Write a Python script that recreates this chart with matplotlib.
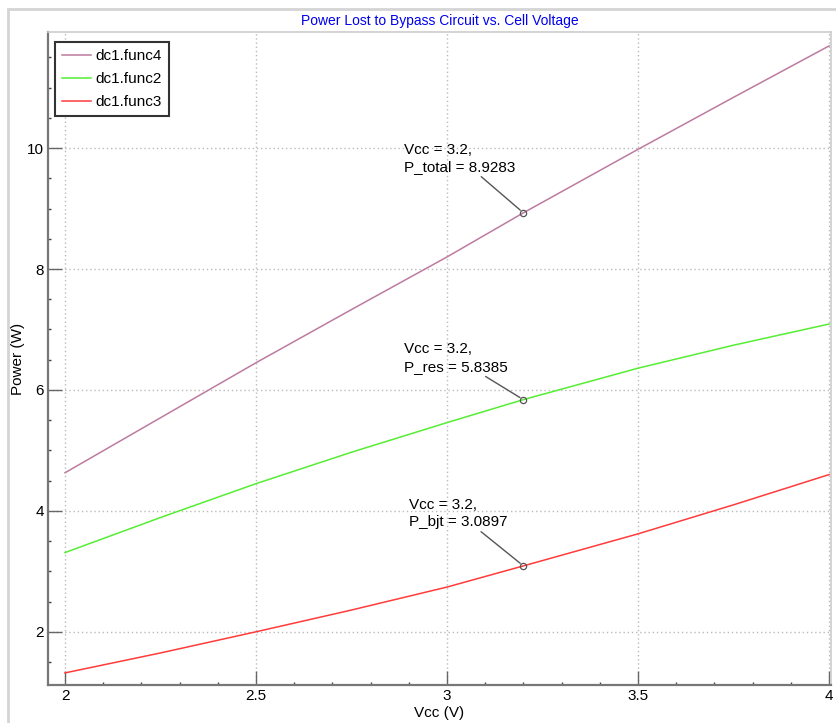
import numpy as np
import matplotlib
matplotlib.use('Agg')
import matplotlib.pyplot as plt
from matplotlib.patches import Rectangle
from matplotlib.ticker import MultipleLocator

plt.rcParams['font.family'] = ['Liberation Sans', 'DejaVu Sans']

# data
vcc = [2.0, 2.25, 2.5, 2.75, 3.0, 3.2, 3.5, 3.75, 4.0]
p_bjt = [1.32, 1.65, 2.0, 2.36, 2.74, 3.09, 3.62, 4.10, 4.60]
p_res = [3.31, 3.89, 4.45, 4.97, 5.46, 5.84, 6.36, 6.74, 7.09]
p_total = [a + b for a, b in zip(p_bjt, p_res)]

tip_x = 3.2
tips = [
    ('P_total', 8.9283, (-8, 39)),
    ('P_res', 5.8385, (-16, 26)),
    ('P_bjt', 3.0897, (-16, 37)),
]

fig = plt.figure(figsize=(8.37, 7.23), dpi=100)
fig.patches.append(Rectangle((8 / 837, -0.1), 2, (723 - 9) / 723 + 0.1,
                             transform=fig.transFigure, fill=False,
                             edgecolor='#d4d4d4', lw=2, zorder=-5))

ax = fig.add_axes([48 / 837, 38 / 723, (831 - 48) / 837, (685 - 32) / 723])

ax.plot(vcc, p_total, color='#bd7b9f', lw=1.1, label='dc1.func4')
ax.plot(vcc, p_res, color='#55ee33', lw=1.1, label='dc1.func2')
ax.plot(vcc, p_bjt, color='#ff3b3b', lw=1.1, label='dc1.func3')

for name, val, off in tips:
    ax.plot([tip_x], [val], 'o', ms=4.5, mfc='none', mec='#555555', mew=0.9)
    ax.annotate(f'Vcc = {tip_x},\n{name} = {val}', xy=(tip_x, val),
                xytext=off, textcoords='offset pixels',
                ha='right', va='bottom', multialignment='left',
                fontsize=11, linespacing=1.3,
                arrowprops=dict(arrowstyle='-', color='#555555', lw=1,
                                shrinkA=0, shrinkB=3))

ax.set_xlim(1.9555, 4.005)
ax.set_ylim(1.12, 11.92)
ax.xaxis.set_major_locator(MultipleLocator(0.5))
ax.xaxis.set_minor_locator(MultipleLocator(0.1))
ax.yaxis.set_major_locator(MultipleLocator(2))
ax.yaxis.set_minor_locator(MultipleLocator(0.5))
ax.set_xticks([2, 2.5, 3, 3.5, 4], ['2', '2.5', '3', '3.5', '4'])

ax.tick_params(which='major', direction='in', length=10, width=1,
               color='#666666', labelsize=11, pad=3)
ax.tick_params(which='minor', direction='in', length=2.5, width=1,
               color='#444444')
ax.grid(True, which='major', linestyle=(0, (1, 2)), color='#bbbbbb', lw=1)

for side in ['left', 'bottom']:
    ax.spines[side].set_color('#777777')
    ax.spines[side].set_linewidth(1.6)
for side in ['top', 'right']:
    ax.spines[side].set_color('#cccccc')
    ax.spines[side].set_linewidth(1.2)

ax.set_title('Power Lost to Bypass Circuit vs. Cell Voltage', color='#0000ee',
             fontsize=10, pad=5)
ax.set_xlabel('Vcc (V)', fontsize=11, labelpad=2)
ax.set_ylabel('Power (W)', fontsize=11, labelpad=1)

leg = ax.legend(loc='upper left', bbox_to_anchor=(0.0, 0.995), fontsize=11,
                fancybox=False, framealpha=1, handlelength=1.9,
                handletextpad=0.3, borderpad=0.45, labelspacing=0.6,
                borderaxespad=0.45)
leg.get_frame().set_edgecolor('#333333')
leg.get_frame().set_linewidth(1.5)

fig.savefig('out.png', dpi=100)
